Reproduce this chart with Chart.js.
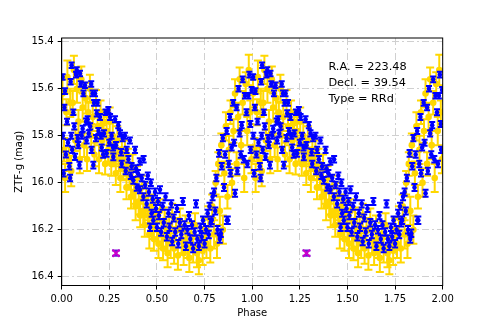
<!DOCTYPE html>
<html>
<head>
<meta charset="utf-8">
<script src="https://cdn.jsdelivr.net/npm/chart.js@4.4.1/dist/chart.umd.min.js"></script>
<style>
  html, body { margin: 0; padding: 0; background: #fff; }
  canvas { display: block; }
</style>
</head>
<body>
<canvas id="lc" width="492" height="327"></canvas>
<script>
// ZTF-g light curve folded on the period, shown over two cycles

// [phase, mag, err] (phase 0-1, repeated at phase+1)
const goldObs = [
  [0.004, 15.62, 0.06], [0.012, 15.86, 0.05], [0.018, 15.98, 0.06], [0.025, 15.70, 0.055],
  [0.030, 15.55, 0.07], [0.038, 15.90, 0.05], [0.045, 15.66, 0.06], [0.050, 15.95, 0.065],
  [0.058, 15.66, 0.05], [0.064, 15.52, 0.06], [0.072, 15.82, 0.045], [0.080, 15.60, 0.06],
  [0.088, 15.74, 0.05], [0.095, 15.90, 0.06], [0.103, 15.56, 0.055], [0.110, 15.68, 0.06],
  [0.118, 15.84, 0.05], [0.126, 15.64, 0.065], [0.133, 15.90, 0.05], [0.140, 15.70, 0.045],
  [0.148, 15.60, 0.06], [0.155, 15.80, 0.05], [0.163, 15.72, 0.06], [0.172, 15.88, 0.05],
  [0.180, 15.66, 0.055], [0.188, 15.76, 0.05], [0.196, 15.90, 0.06], [0.204, 15.70, 0.05],
  [0.212, 15.82, 0.065], [0.220, 15.74, 0.05], [0.228, 15.92, 0.045], [0.236, 15.78, 0.06],
  [0.244, 15.86, 0.05], [0.252, 15.74, 0.06], [0.260, 15.92, 0.05], [0.268, 15.80, 0.055],
  [0.276, 15.88, 0.05], [0.284, 15.96, 0.05], [0.292, 15.82, 0.06], [0.300, 15.90, 0.05],
  [0.308, 15.98, 0.06], [0.316, 15.86, 0.045], [0.324, 15.94, 0.05], [0.332, 15.88, 0.06],
  [0.340, 16.02, 0.05], [0.348, 15.92, 0.065], [0.356, 15.98, 0.05], [0.364, 16.06, 0.05],
  [0.372, 15.94, 0.06], [0.380, 16.04, 0.05], [0.388, 16.10, 0.06], [0.396, 15.98, 0.05],
  [0.404, 16.08, 0.055], [0.412, 16.14, 0.05], [0.420, 16.02, 0.05], [0.428, 16.12, 0.06],
  [0.436, 16.18, 0.05], [0.444, 16.06, 0.06], [0.452, 16.14, 0.045], [0.460, 16.22, 0.06],
  [0.468, 16.10, 0.05], [0.476, 16.18, 0.06], [0.484, 16.24, 0.05], [0.492, 16.14, 0.065],
  [0.500, 16.20, 0.05], [0.508, 16.26, 0.06], [0.516, 16.12, 0.05], [0.524, 16.22, 0.06],
  [0.532, 16.28, 0.05], [0.540, 16.16, 0.055], [0.548, 16.24, 0.05], [0.556, 16.30, 0.06],
  [0.564, 16.18, 0.05], [0.572, 16.26, 0.06], [0.580, 16.14, 0.05], [0.590, 16.28, 0.065],
  [0.600, 16.20, 0.05], [0.610, 16.31, 0.06], [0.620, 16.16, 0.05], [0.630, 16.24, 0.06],
  [0.640, 16.30, 0.05], [0.650, 16.20, 0.06], [0.660, 16.27, 0.05], [0.670, 16.32, 0.06],
  [0.680, 16.22, 0.05], [0.690, 16.28, 0.06], [0.700, 16.18, 0.05], [0.710, 16.30, 0.06],
  [0.720, 16.33, 0.06], [0.730, 16.24, 0.05], [0.740, 16.29, 0.06], [0.750, 16.20, 0.05],
  [0.760, 16.26, 0.06], [0.770, 16.15, 0.05], [0.780, 16.28, 0.06], [0.790, 16.10, 0.05],
  [0.800, 16.22, 0.06], [0.808, 16.00, 0.05], [0.815, 16.26, 0.06], [0.822, 15.92, 0.05],
  [0.830, 16.12, 0.06], [0.838, 15.84, 0.05], [0.846, 16.20, 0.06], [0.854, 15.96, 0.05],
  [0.862, 15.76, 0.06], [0.870, 16.06, 0.05], [0.878, 15.86, 0.06], [0.886, 15.70, 0.05],
  [0.894, 16.00, 0.06], [0.902, 15.78, 0.05], [0.910, 15.62, 0.06], [0.918, 15.92, 0.05],
  [0.926, 15.72, 0.06], [0.934, 15.56, 0.05], [0.942, 15.84, 0.06], [0.950, 15.66, 0.05],
  [0.958, 15.98, 0.06], [0.966, 15.58, 0.05], [0.974, 15.78, 0.06], [0.982, 15.52, 0.065],
  [0.990, 15.70, 0.05], [0.996, 15.90, 0.06]
];

const blueObs = [
  [0.005, 15.55, 0.012], [0.006, 15.80, 0.013], [0.010, 15.96, 0.014], [0.014, 15.68, 0.012],
  [0.017, 15.61, 0.012], [0.022, 15.88, 0.013], [0.028, 15.74, 0.012], [0.033, 15.83, 0.013],
  [0.040, 15.93, 0.014], [0.044, 15.98, 0.014], [0.047, 15.57, 0.012], [0.050, 15.80, 0.013],
  [0.052, 15.50, 0.012], [0.055, 15.86, 0.013], [0.061, 15.70, 0.012], [0.066, 15.76, 0.013],
  [0.070, 15.89, 0.013], [0.075, 15.54, 0.012], [0.079, 15.52, 0.012], [0.084, 15.81, 0.013],
  [0.087, 15.84, 0.013], [0.093, 15.925, 0.014], [0.096, 15.535, 0.012], [0.100, 15.58, 0.012],
  [0.105, 15.80, 0.013], [0.110, 15.77, 0.013], [0.114, 15.62, 0.012], [0.122, 15.585, 0.012],
  [0.128, 15.74, 0.013], [0.131, 15.82, 0.013], [0.136, 15.73, 0.013], [0.142, 15.79, 0.013],
  [0.149, 15.76, 0.013], [0.155, 15.58, 0.012], [0.157, 15.86, 0.013], [0.162, 15.62, 0.012],
  [0.166, 15.925, 0.014], [0.170, 15.66, 0.012], [0.175, 15.62, 0.012], [0.180, 15.81, 0.013],
  [0.184, 15.705, 0.013], [0.188, 15.66, 0.012], [0.193, 15.78, 0.013], [0.201, 15.72, 0.013],
  [0.205, 15.80, 0.013], [0.210, 15.85, 0.013], [0.218, 15.88, 0.014], [0.222, 15.79, 0.013],
  [0.230, 15.70, 0.012], [0.236, 15.875, 0.014], [0.245, 15.69, 0.012], [0.250, 15.83, 0.013],
  [0.254, 15.72, 0.013], [0.262, 15.80, 0.013], [0.270, 15.85, 0.013], [0.271, 15.89, 0.014],
  [0.280, 15.73, 0.013], [0.285, 15.84, 0.013], [0.297, 15.755, 0.013], [0.306, 15.79, 0.013],
  [0.312, 15.87, 0.014], [0.315, 15.92, 0.014], [0.320, 15.81, 0.013], [0.332, 15.80, 0.013],
  [0.336, 15.95, 0.014], [0.341, 15.86, 0.013], [0.350, 15.90, 0.014], [0.358, 15.82, 0.013],
  [0.363, 15.97, 0.014], [0.367, 15.93, 0.014], [0.376, 15.99, 0.014], [0.385, 15.86, 0.013],
  [0.390, 15.94, 0.014], [0.394, 16.02, 0.014], [0.400, 15.96, 0.014], [0.410, 15.91, 0.014],
  [0.411, 16.03, 0.015], [0.420, 15.98, 0.014], [0.429, 16.06, 0.015], [0.430, 15.90, 0.014],
  [0.438, 16.01, 0.014], [0.446, 16.09, 0.015], [0.452, 15.97, 0.014], [0.458, 16.04, 0.015],
  [0.464, 16.19, 0.016], [0.468, 16.00, 0.014], [0.472, 16.13, 0.015], [0.478, 16.07, 0.015],
  [0.481, 16.16, 0.016], [0.490, 16.04, 0.015], [0.495, 16.11, 0.015], [0.500, 16.19, 0.016],
  [0.505, 16.08, 0.015], [0.510, 16.14, 0.015], [0.516, 16.03, 0.015], [0.522, 16.21, 0.016],
  [0.530, 16.10, 0.015], [0.536, 16.17, 0.016], [0.545, 16.06, 0.015], [0.552, 16.23, 0.016],
  [0.560, 16.13, 0.015], [0.566, 16.19, 0.016], [0.575, 16.09, 0.015], [0.580, 16.25, 0.016],
  [0.588, 16.15, 0.015], [0.596, 16.21, 0.016], [0.605, 16.11, 0.015], [0.612, 16.26, 0.016],
  [0.620, 16.17, 0.016], [0.628, 16.22, 0.016], [0.636, 16.08, 0.015], [0.645, 16.18, 0.016],
  [0.652, 16.27, 0.016], [0.660, 16.20, 0.016], [0.668, 16.14, 0.015], [0.675, 16.24, 0.016],
  [0.684, 16.18, 0.016], [0.690, 16.28, 0.016], [0.698, 16.21, 0.016], [0.705, 16.09, 0.015],
  [0.712, 16.24, 0.016], [0.720, 16.27, 0.016], [0.728, 16.19, 0.016], [0.735, 16.23, 0.016],
  [0.742, 16.16, 0.016], [0.750, 16.26, 0.016], [0.758, 16.20, 0.016], [0.766, 16.13, 0.015],
  [0.772, 16.22, 0.016], [0.776, 16.10, 0.015], [0.782, 16.17, 0.016], [0.787, 16.16, 0.016],
  [0.792, 16.06, 0.015], [0.800, 16.04, 0.015], [0.806, 16.12, 0.015], [0.812, 15.98, 0.014],
  [0.818, 16.20, 0.016], [0.826, 15.875, 0.014], [0.830, 16.24, 0.016], [0.835, 16.215, 0.016],
  [0.840, 15.93, 0.014], [0.846, 15.81, 0.013], [0.852, 16.02, 0.015], [0.858, 15.88, 0.014],
  [0.866, 15.78, 0.013], [0.867, 16.16, 0.016], [0.872, 16.16, 0.016], [0.877, 15.92, 0.014],
  [0.883, 15.72, 0.013], [0.886, 15.96, 0.014], [0.892, 15.85, 0.013], [0.900, 15.66, 0.012],
  [0.905, 15.83, 0.013], [0.910, 16.045, 0.015], [0.918, 15.68, 0.012], [0.922, 15.95, 0.014],
  [0.928, 15.60, 0.012], [0.934, 15.79, 0.013], [0.940, 15.88, 0.014], [0.945, 15.755, 0.013],
  [0.950, 15.56, 0.012], [0.956, 15.90, 0.014], [0.962, 15.63, 0.012], [0.970, 15.70, 0.013],
  [0.975, 15.92, 0.014], [0.980, 15.63, 0.012], [0.985, 15.54, 0.012], [0.990, 15.75, 0.013],
  [0.992, 15.86, 0.013], [0.997, 15.605, 0.012]
];

const magentaObs = [[0.285, 16.30, 0.011]];

const xTicks = [0, 0.25, 0.5, 0.75, 1.0, 1.25, 1.5, 1.75, 2.0];
const yTicks = [15.4, 15.6, 15.8, 16.0, 16.2, 16.4];
const infoLines = ['R.A. = 223.48', 'Decl. = 39.54', 'Type = RRd'];

// fold over two cycles
function twoCycles(obs) {
  const out = [];
  obs.forEach(([p, m, e]) => out.push({ x: p, y: m, e: e }));
  obs.forEach(([p, m, e]) => out.push({ x: p + 1, y: m, e: e }));
  return out;
}

const errStyle = {
  gold: { color: '#ffd700', width: 2, cap: 4 },
  blue: { color: '#0000ff', width: 2, cap: 3 },
  magenta: { color: '#6a1ad8', width: 2, cap: 4 }
};

const errorBars = {
  id: 'errorBars',
  beforeDatasetDraw(chart, args) {
    const ds = chart.data.datasets[args.index];
    const st = errStyle[ds.label];
    if (!st) return;
    const ys = chart.scales.y;
    const ctx = chart.ctx;
    ctx.save();
    ctx.beginPath();
    ctx.rect(chart.chartArea.left, chart.chartArea.top,
             chart.chartArea.right - chart.chartArea.left,
             chart.chartArea.bottom - chart.chartArea.top);
    ctx.clip();
    ctx.strokeStyle = st.color;
    ctx.lineWidth = st.width;
    ctx.beginPath();
    args.meta.data.forEach((pt, i) => {
      const d = ds.data[i];
      const y0 = ys.getPixelForValue(d.y - d.e);
      const y1 = ys.getPixelForValue(d.y + d.e);
      ctx.moveTo(pt.x, y0); ctx.lineTo(pt.x, y1);
      ctx.moveTo(pt.x - st.cap, y0); ctx.lineTo(pt.x + st.cap, y0);
      ctx.moveTo(pt.x - st.cap, y1); ctx.lineTo(pt.x + st.cap, y1);
    });
    ctx.stroke();
    ctx.restore();
  }
};

const frameAndText = {
  id: 'frameAndText',
  afterDatasetsDraw(chart) {
    const { ctx, chartArea: a } = chart;
    ctx.save();
    ctx.strokeStyle = '#000';
    ctx.lineWidth = 1;
    ctx.strokeRect(a.left, a.top, a.right - a.left, a.bottom - a.top);
    ctx.fillStyle = '#000';
    ctx.font = '11.3px "DejaVu Sans"';
    ctx.textBaseline = 'alphabetic';
    const tx = a.left + 0.70 * (a.right - a.left);
    infoLines.forEach((t, i) => ctx.fillText(t, tx, a.top + 31.5 + i * 16));
    ctx.restore();
  }
};

Chart.defaults.font.family = '"DejaVu Sans", sans-serif';
Chart.defaults.font.size = 10;
Chart.defaults.color = '#000';

new Chart(document.getElementById('lc'), {
  type: 'scatter',
  data: {
    datasets: [{
      label: 'gold',
      data: twoCycles(goldObs),
      pointRadius: 3.3,
      pointBackgroundColor: '#ffd700',
      pointBorderWidth: 0,
      order: 3
    }, {
      label: 'blue',
      data: twoCycles(blueObs),
      pointRadius: 2.3,
      pointBackgroundColor: '#0000ff',
      pointBorderWidth: 0,
      order: 2
    }, {
      label: 'magenta',
      data: twoCycles(magentaObs),
      pointStyle: 'crossRot',
      pointRadius: 5,
      pointBorderColor: '#cc00cc',
      pointBorderWidth: 2,
      order: 1
    }]
  },
  options: {
    responsive: false,
    animation: false,
    events: [],
    layout: { padding: { left: 0, right: 49.3, top: 38, bottom: 0 } },
    plugins: { legend: { display: false }, tooltip: { enabled: false } },
    scales: {
      x: {
        type: 'linear',
        min: 0,
        max: 2,
        afterBuildTicks: s => { s.ticks = xTicks.map(v => ({ value: v })); },
        afterFit: s => { s.height = 41.5; },
        ticks: { padding: 4, callback: v => Number(v).toFixed(2) },
        grid: { color: '#d0d0d0', lineWidth: 1, tickColor: '#000', tickLength: 4 },
        border: { color: '#000', width: 1, dash: [7, 3, 2, 3] },
        title: { display: true, text: 'Phase', padding: { top: 0, bottom: 8 } }
      },
      y: {
        type: 'linear',
        reverse: true,
        min: 15.384,
        max: 16.4375,
        afterBuildTicks: s => { s.ticks = yTicks.map(v => ({ value: v })); },
        afterFit: s => { s.width = 61.7; },
        ticks: { padding: 4, callback: v => Number(v).toFixed(1) },
        grid: { color: '#d0d0d0', lineWidth: 1, tickColor: '#000', tickLength: 4 },
        border: { color: '#000', width: 1, dash: [7, 3, 2, 3] },
        title: { display: true, text: 'ZTF-g (mag)', padding: { top: 13, bottom: 0 } }
      }
    }
  },
  plugins: [errorBars, frameAndText]
});
</script>
</body>
</html>
